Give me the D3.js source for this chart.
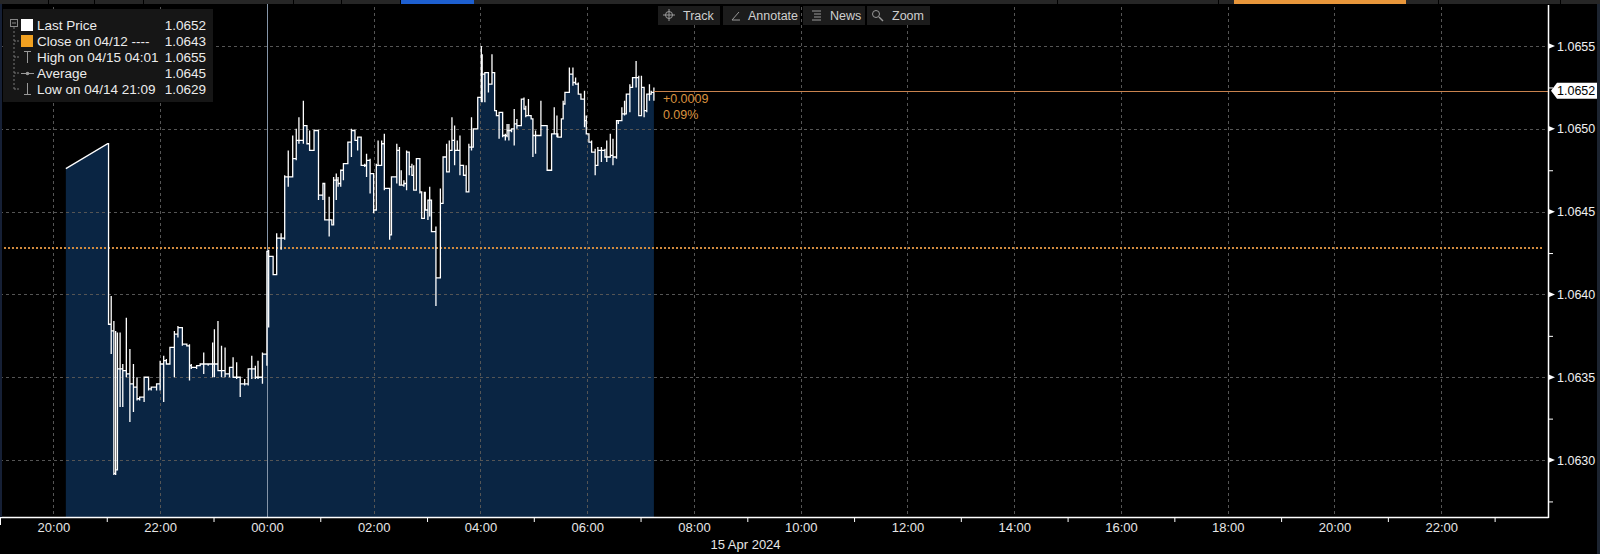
<!DOCTYPE html>
<html><head><meta charset="utf-8">
<script src="https://cdn.jsdelivr.net/npm/d3@7"></script>
<style>
html,body{margin:0;padding:0;background:#000;overflow:hidden}
svg{display:block;font-family:"Liberation Sans",Arial,sans-serif}
</style>
</head><body>
<svg id="chart" width="1600" height="554"></svg>
<script>
// ---------- DATA ----------
const priceTimes = ["20:14","21:01","21:02","21:05","21:08","21:10","21:12","21:15","21:18","21:22","21:26","21:30","21:34","21:37","21:42","21:47","21:50","21:56","22:00","22:04","22:07","22:11","22:16","22:20","22:25","22:30","22:33","22:35","22:41","22:45","22:49","22:54","22:59","23:01","23:05","23:09","23:13","23:18","23:22","23:26","23:30","23:35","23:39","23:43","23:47","23:50","23:55",
"00:00","00:02","00:07","00:11","00:16","00:20","00:24","00:29","00:33","00:36","00:41","00:45","00:48","00:53","00:58","01:03","01:05","01:10","01:13","01:15","01:18","01:20","01:23","01:26","01:31","01:35","01:39","01:42","01:46","01:50","01:52","01:56","02:00","02:03","02:05","02:09","02:12","02:15","02:18","02:20","02:24","02:26","02:29","02:31","02:34","02:37","02:40","02:43","02:45","02:48","02:52","02:54","02:57","02:58","03:01","03:03","03:05","03:07","03:10","03:13","03:15","03:18","03:22","03:25","03:28","03:31","03:34","03:37","03:41","03:44","03:47","03:50","03:52","03:57","04:01","04:02","04:05","04:09","04:13","04:16","04:18","04:21","04:25","04:28","04:30","04:32","04:35","04:38","04:41","04:42","04:46","04:49","04:51","04:54","04:57","04:59","05:02","05:05","05:08","05:11","05:15","05:20","05:23","05:26","05:27","05:31","05:33","05:35","05:40","05:42","05:44","05:47","05:50","05:53","05:57","05:59","06:02","06:05","06:09","06:12","06:16","06:20","06:22","06:26","06:29","06:33","06:35","06:39","06:42","06:44","06:48","06:51","06:55","06:58","07:01","07:04","07:07","07:10","07:12","07:15"];
const priceHigh = [1.06476,1.06491,1.06491,1.06399,1.06384,1.06378,1.06377,1.06377,1.06358,1.06386,1.06367,1.06358,1.06350,1.06338,1.06350,1.06350,1.06344,1.06346,1.06360,1.06363,1.06361,1.06368,1.06378,1.06381,1.06380,1.06370,1.06370,1.06358,1.06357,1.06358,1.06365,1.06358,1.06371,1.06379,1.06384,1.06369,1.06368,1.06356,1.06362,1.06359,1.06350,1.06349,1.06355,1.06363,1.06357,1.06360,1.06365,
1.06426,1.06427,1.06423,1.06437,1.06437,1.06472,1.06487,1.06496,1.06500,1.06507,1.06517,1.06502,1.06499,1.06499,1.06499,1.06467,1.06467,1.06459,1.06445,1.06471,1.06473,1.06471,1.06475,1.06479,1.06492,1.06500,1.06499,1.06495,1.06495,1.06479,1.06485,1.06482,1.06473,1.06479,1.06493,1.06493,1.06497,1.06464,1.06464,1.06471,1.06471,1.06491,1.06489,1.06475,1.06469,1.06487,1.06485,1.06479,1.06478,1.06482,1.06482,1.06462,1.06462,1.06462,1.06457,1.06465,1.06457,1.06438,1.06441,1.06410,1.06464,1.06483,1.06491,1.06493,1.06507,1.06502,1.06493,1.06496,1.06478,1.06478,1.06491,1.06507,1.06500,1.06519,1.06550,1.06545,1.06534,1.06534,1.06545,1.06534,1.06511,1.06510,1.06509,1.06497,1.06503,1.06503,1.06500,1.06512,1.06506,1.06502,1.06518,1.06519,1.06514,1.06518,1.06508,1.06496,1.06499,1.06496,1.06517,1.06502,1.06502,1.06497,1.06513,1.06508,1.06497,1.06506,1.06517,1.06522,1.06537,1.06533,1.06537,1.06531,1.06528,1.06521,1.06523,1.06508,1.06496,1.06493,1.06488,1.06489,1.06489,1.06488,1.06493,1.06497,1.06494,1.06505,1.06505,1.06513,1.06517,1.06521,1.06527,1.06531,1.06541,1.06532,1.06532,1.06511,1.06521,1.06527,1.06523,1.06525];
const priceLow = [1.06476,1.06491,1.06382,1.06364,1.06291,1.06291,1.06294,1.06332,1.06332,1.06350,1.06323,1.06329,1.06336,1.06336,1.06335,1.06342,1.06342,1.06342,1.06342,1.06335,1.06358,1.06358,1.06350,1.06374,1.06369,1.06369,1.06348,1.06355,1.06355,1.06357,1.06352,1.06357,1.06350,1.06350,1.06354,1.06350,1.06350,1.06350,1.06350,1.06349,1.06338,1.06345,1.06345,1.06349,1.06349,1.06349,1.06346,
1.06357,1.06380,1.06412,1.06412,1.06427,1.06433,1.06465,1.06471,1.06481,1.06491,1.06491,1.06491,1.06487,1.06487,1.06457,1.06457,1.06445,1.06435,1.06442,1.06442,1.06457,1.06465,1.06465,1.06469,1.06479,1.06483,1.06493,1.06487,1.06478,1.06477,1.06471,1.06461,1.06449,1.06451,1.06478,1.06478,1.06463,1.06464,1.06433,1.06436,1.06471,1.06467,1.06466,1.06466,1.06465,1.06463,1.06472,1.06472,1.06463,1.06463,1.06461,1.06446,1.06446,1.06451,1.06445,1.06447,1.06438,1.06438,1.06393,1.06410,1.06410,1.06455,1.06474,1.06474,1.06487,1.06478,1.06487,1.06472,1.06472,1.06462,1.06462,1.06487,1.06489,1.06500,1.06516,1.06516,1.06516,1.06522,1.06527,1.06511,1.06508,1.06494,1.06495,1.06493,1.06495,1.06493,1.06498,1.06490,1.06500,1.06502,1.06502,1.06512,1.06507,1.06508,1.06506,1.06483,1.06485,1.06496,1.06496,1.06502,1.06475,1.06476,1.06497,1.06495,1.06495,1.06495,1.06510,1.06516,1.06522,1.06533,1.06526,1.06527,1.06521,1.06518,1.06501,1.06497,1.06492,1.06486,1.06472,1.06478,1.06480,1.06483,1.06480,1.06484,1.06478,1.06482,1.06503,1.06505,1.06508,1.06513,1.06510,1.06525,1.06525,1.06508,1.06525,1.06507,1.06510,1.06517,1.06521,1.06517];
const priceClose = [1.06476,1.06491,1.06382,1.06378,1.06292,1.06294,1.06355,1.06355,1.06354,1.06352,1.06346,1.06344,1.06337,1.06338,1.06350,1.06343,1.06344,1.06346,1.06358,1.06360,1.06358,1.06368,1.06376,1.06380,1.06370,1.06369,1.06357,1.06356,1.06357,1.06358,1.06358,1.06358,1.06358,1.06358,1.06354,1.06354,1.06352,1.06356,1.06350,1.06350,1.06346,1.06346,1.06355,1.06355,1.06350,1.06350,1.06364,
1.06426,1.06423,1.06412,1.06434,1.06434,1.06471,1.06471,1.06482,1.06493,1.06493,1.06502,1.06491,1.06487,1.06499,1.06460,1.06467,1.06445,1.06445,1.06442,1.06469,1.06469,1.06467,1.06475,1.06479,1.06492,1.06499,1.06493,1.06495,1.06478,1.06478,1.06481,1.06473,1.06451,1.06478,1.06478,1.06491,1.06464,1.06464,1.06436,1.06471,1.06471,1.06487,1.06466,1.06466,1.06467,1.06486,1.06477,1.06472,1.06463,1.06482,1.06462,1.06446,1.06457,1.06451,1.06457,1.06457,1.06438,1.06438,1.06410,1.06410,1.06455,1.06483,1.06474,1.06487,1.06493,1.06487,1.06487,1.06478,1.06472,1.06462,1.06489,1.06489,1.06500,1.06519,1.06541,1.06533,1.06534,1.06527,1.06534,1.06511,1.06508,1.06510,1.06496,1.06496,1.06499,1.06499,1.06500,1.06503,1.06502,1.06502,1.06518,1.06512,1.06508,1.06508,1.06506,1.06496,1.06496,1.06496,1.06502,1.06502,1.06475,1.06497,1.06497,1.06497,1.06495,1.06506,1.06515,1.06522,1.06533,1.06533,1.06528,1.06527,1.06521,1.06518,1.06505,1.06497,1.06492,1.06486,1.06478,1.06487,1.06487,1.06483,1.06483,1.06484,1.06483,1.06505,1.06505,1.06509,1.06509,1.06521,1.06525,1.06531,1.06531,1.06508,1.06525,1.06511,1.06521,1.06521,1.06522,1.06523];

const previousClose = 1.06428;
const lastPrice = 1.06523;
const changeText = "+0.0009";
const changePctText = "0.09%";

const yTickValues = [1.0630, 1.0635, 1.0640, 1.0645, 1.0650, 1.0655];
const yMinorValues = [1.06275, 1.06325, 1.06375, 1.06425, 1.06475, 1.06525];
const lastPriceLabel = "1.0652";
const dateLabel = "15 Apr 2024";

const legendLabels = ["Last Price", "Close on 04/12 ----", "High on 04/15 04:01", "Average", "Low on 04/14 21:09"];
const legendValues = ["1.0652", "1.0643", "1.0655", "1.0645", "1.0629"];
const toolbarItems = ["Track", "Annotate", "News", "Zoom"];

// ---------- SETUP ----------
const W = 1600, H = 554;
const svg = d3.select("#chart");
const plotLeft = 0, plotRight = 1548, plotTop = 5, plotBottom = 517;

const toDate = s => { const [h, m] = s.split(":").map(Number); return new Date(2024, 3, h >= 19 ? 14 : 15, h, m); };
const domainStart = new Date(2024, 3, 14, 19, 0), domainEnd = new Date(2024, 3, 16, 0, 0);
const x = d3.scaleTime().domain([domainStart, domainEnd]).range([plotLeft, plotRight]);
const y = d3.scaleLinear().domain([1.062656, 1.065748]).range([plotBottom, plotTop]);

svg.append("rect").attr("width", W).attr("height", H).attr("fill", "#000");

// build step path points
const bars = priceTimes.map((t, i) => ({ t: toDate(t), h: priceHigh[i], l: priceLow[i], c: priceClose[i] }));
const pts = [];
bars.forEach((b, i) => {
  if (i === 0) { pts.push([b.t, b.c]); return; }
  const p = bars[i - 1];
  if (b.t - p.t <= 20 * 60000) pts.push([b.t, p.c]);
  pts.push([b.t, b.h], [b.t, b.l], [b.t, b.c]);
});

// area
svg.append("path").datum(pts)
  .attr("d", d3.area().x(d => x(d[0])).y0(plotBottom).y1(d => y(d[1])))
  .attr("fill", "#0a2543");

// gridlines
const grid = svg.append("g");
grid.selectAll("line.h").data(yTickValues).join("line")
  .attr("x1", plotLeft).attr("x2", plotRight - 3)
  .attr("y1", d => Math.round(y(d)) + 0.5).attr("y2", d => Math.round(y(d)) + 0.5)
  .attr("stroke", "#555").attr("stroke-dasharray", "3,3");
const evenHours = d3.timeHour.every(2).range(domainStart, domainEnd);
const dayStart = new Date(2024, 3, 15, 0, 0);
grid.selectAll("line.v").data(evenHours.filter(d => +d !== +dayStart)).join("line")
  .attr("x1", d => Math.round(x(d)) + 0.5).attr("x2", d => Math.round(x(d)) + 0.5)
  .attr("y1", plotTop + 2).attr("y2", plotBottom)
  .attr("stroke", "#555").attr("stroke-dasharray", "3,3");
// day separator
svg.append("line")
  .attr("x1", Math.round(x(dayStart)) + 0.5).attr("x2", Math.round(x(dayStart)) + 0.5)
  .attr("y1", 0).attr("y2", plotBottom)
  .attr("stroke", "#8595a8").attr("stroke-width", 1);

// previous close dotted line
svg.append("line")
  .attr("x1", plotLeft).attr("x2", plotRight - 4)
  .attr("y1", y(previousClose)).attr("y2", y(previousClose))
  .attr("stroke", "#d08a3e").attr("stroke-width", 2).attr("stroke-dasharray", "2,2");

// price line
svg.append("path").datum(pts)
  .attr("d", d3.line().x(d => x(d[0])).y(d => y(d[1])))
  .attr("fill", "none").attr("stroke", "#fff").attr("stroke-width", 1.3);

// last price line
const lastT = bars[bars.length - 1].t;
svg.append("line")
  .attr("x1", x(lastT)).attr("x2", plotRight)
  .attr("y1", Math.round(y(lastPrice)) + 0.5).attr("y2", Math.round(y(lastPrice)) + 0.5)
  .attr("stroke", "#c9834e").attr("stroke-width", 1);

svg.append("text").attr("x", x(lastT) + 9).attr("y", y(lastPrice) + 12)
  .attr("fill", "#d9923f").attr("font-size", 12.5).text(changeText);
svg.append("text").attr("x", x(lastT) + 9).attr("y", y(lastPrice) + 28)
  .attr("fill", "#d9923f").attr("font-size", 12.5).text(changePctText);

// x axis
const xAxisG = svg.append("g").attr("transform", `translate(0,${plotBottom})`);
xAxisG.call(d3.axisBottom(x).tickValues(evenHours).tickFormat(d3.timeFormat("%H:%M")).tickSize(0).tickPadding(6));
xAxisG.select(".domain").remove();
xAxisG.selectAll("text").attr("fill", "#e6e6e6").attr("font-size", 13).attr("font-family", "Liberation Sans, Arial, sans-serif");
const oddHours = d3.timeHour.range(domainStart, domainEnd).filter(d => d.getHours() % 2 === 1);
const xMinorG = svg.append("g").attr("transform", `translate(0,${plotBottom})`);
xMinorG.call(d3.axisBottom(x).tickValues(oddHours).tickFormat("").tickSize(5));
xMinorG.select(".domain").remove();
xMinorG.selectAll("line").attr("stroke", "#fff");
svg.append("line").attr("x1", plotLeft).attr("x2", plotRight + 0.5)
  .attr("y1", plotBottom + 0.5).attr("y2", plotBottom + 0.5).attr("stroke", "#fff").attr("stroke-width", 1.5);
svg.append("line").attr("x1", 0.5).attr("x2", 0.5).attr("y1", plotBottom).attr("y2", plotBottom + 8).attr("stroke", "#fff");
svg.append("text").attr("x", x(new Date(2024, 3, 15, 8, 58))).attr("y", 549)
  .attr("text-anchor", "middle").attr("fill", "#e6e6e6").attr("font-size", 13).text(dateLabel);

// frame bits
svg.append("rect").attr("x", 1597).attr("y", 0).attr("width", 3).attr("height", H).attr("fill", "#1c2430");
svg.append("rect").attr("x", 0).attr("y", 0).attr("width", 2).attr("height", plotBottom).attr("fill", "#162036");

// y axis
const yAxisG = svg.append("g").attr("transform", `translate(${plotRight},0)`);
yAxisG.call(d3.axisRight(y).tickValues(yTickValues).tickFormat(d3.format(".4f")).tickSize(0).tickPadding(9));
yAxisG.select(".domain").remove();
yAxisG.selectAll("text").attr("fill", "#f0f0f0").attr("font-size", 12.5).attr("font-family", "Liberation Sans, Arial, sans-serif");
const yMinorG = svg.append("g").attr("transform", `translate(${plotRight},0)`);
yMinorG.call(d3.axisRight(y).tickValues(yMinorValues).tickFormat("").tickSize(5));
yMinorG.select(".domain").remove();
yMinorG.selectAll("line").attr("stroke", "#fff");
svg.selectAll("path.ytri").data(yTickValues).join("path").attr("class", "ytri")
  .attr("d", d => { const yy = y(d); return `M${plotRight},${yy - 3}L${plotRight + 7},${yy}L${plotRight},${yy + 3}Z`; })
  .attr("fill", "#fff");
svg.append("line").attr("x1", plotRight + 0.5).attr("x2", plotRight + 0.5)
  .attr("y1", plotTop).attr("y2", plotBottom + 1).attr("stroke", "#fff").attr("stroke-width", 1.5);

// last price label box
const ly = y(lastPrice);
svg.append("path")
  .attr("d", `M${plotRight + 3},${ly}L${plotRight + 9},${ly - 8}L1597,${ly - 8}L1597,${ly + 8}L${plotRight + 9},${ly + 8}Z`)
  .attr("fill", "#fff");
svg.append("text").attr("x", plotRight + 9).attr("y", ly + 4.5)
  .attr("fill", "#000").attr("font-size", 12.5).text(lastPriceLabel);

// top tab strip
svg.append("rect").attr("x", 0).attr("y", 0).attr("width", W).attr("height", 4).attr("fill", "#262626");
[48, 94, 143, 293, 341, 400, 1057, 1218, 1438, 1560].forEach(d => {
  svg.append("rect").attr("x", d).attr("y", 0).attr("width", 1).attr("height", 4).attr("fill", "#000");
});
svg.append("rect").attr("x", 401).attr("y", 0).attr("width", 73).attr("height", 4).attr("fill", "#1d5fd0");
svg.append("rect").attr("x", 1234).attr("y", 0).attr("width", 172).attr("height", 4).attr("fill", "#e8963a");

// toolbar
const tb = svg.append("g");
const tbBoxes = [[658, 62], [723, 77], [803, 62], [867, 63]];
const tbTextX = [683, 748, 830, 892];
toolbarItems.forEach((t, i) => {
  tb.append("rect").attr("x", tbBoxes[i][0]).attr("y", 6).attr("width", tbBoxes[i][1]).attr("height", 19).attr("fill", "#1c1c1c");
  tb.append("text").attr("x", tbTextX[i]).attr("y", 20).attr("fill", "#cfcfcf").attr("font-size", 12.5).text(t);
});
// icons
tb.append("circle").attr("cx", 669).attr("cy", 15).attr("r", 3.5).attr("fill", "none").attr("stroke", "#999");
tb.append("path").attr("d", "M663,15H675M669,9V21").attr("stroke", "#999");
tb.append("path").attr("d", "M732,20L739,12M732,20H740").attr("stroke", "#999").attr("fill", "none");
tb.append("path").attr("d", "M812,11H821M814,14H821M814,17H821M812,20H821").attr("stroke", "#999");
tb.append("circle").attr("cx", 876).attr("cy", 14).attr("r", 3.5).attr("fill", "none").attr("stroke", "#999");
tb.append("path").attr("d", "M879,17L883,21").attr("stroke", "#999").attr("stroke-width", 1.5);

// legend
const lg = svg.append("g");
lg.append("rect").attr("x", 3).attr("y", 9).attr("width", 210).attr("height", 93).attr("fill", "#161616");
lg.append("rect").attr("x", 10.5).attr("y", 19.5).attr("width", 7).attr("height", 7).attr("fill", "none").attr("stroke", "#888");
lg.append("line").attr("x1", 12).attr("x2", 16).attr("y1", 23).attr("y2", 23).attr("stroke", "#888");
lg.append("line").attr("x1", 14).attr("x2", 14).attr("y1", 27).attr("y2", 90).attr("stroke", "#777").attr("stroke-dasharray", "2,2");
const rowY = [25, 41, 57, 73, 89];
rowY.slice(1).forEach(r => lg.append("line").attr("x1", 14).attr("x2", 19).attr("y1", r).attr("y2", r).attr("stroke", "#777").attr("stroke-dasharray", "2,1"));
lg.append("rect").attr("x", 21).attr("y", 19).attr("width", 12).attr("height", 12).attr("fill", "#fff");
lg.append("rect").attr("x", 21).attr("y", 35).attr("width", 12).attr("height", 12).attr("fill", "#f0a020");
lg.append("path").attr("d", "M24,51.5H31M27.5,51V63").attr("stroke", "#999").attr("fill", "none");
lg.append("path").attr("d", "M21,73.5H34").attr("stroke", "#999");
lg.append("circle").attr("cx", 27.5).attr("cy", 73.5).attr("r", 1.8).attr("fill", "#999");
lg.append("path").attr("d", "M27.5,83V95M24,94.5H31").attr("stroke", "#999").attr("fill", "none");
legendLabels.forEach((t, i) => {
  lg.append("text").attr("x", 37).attr("y", rowY[i] + 5).attr("fill", "#ececec").attr("font-size", 13.5).text(t);
  lg.append("text").attr("x", 206).attr("y", rowY[i] + 5).attr("text-anchor", "end").attr("fill", "#ececec").attr("font-size", 13.5).text(legendValues[i]);
});
</script>
</body></html>
